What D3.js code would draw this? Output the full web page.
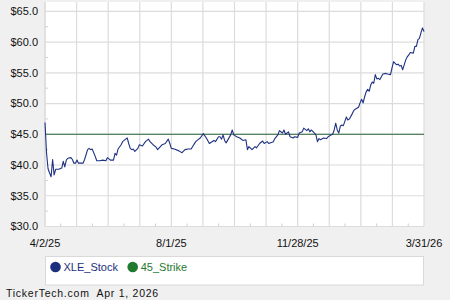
<!DOCTYPE html>
<html><head><meta charset="utf-8">
<script src="https://cdn.jsdelivr.net/npm/d3@7"></script>
<style>
html,body{margin:0;padding:0;background:#f0f0f0;}
svg{display:block;font-family:"Liberation Sans",Arial,sans-serif;}
</style></head>
<body>
<svg id="c" width="450" height="300"></svg>
<script>
// trading-session index (0 = 4/2/25, 249 = 3/31/26)
const sessionIdx = [0,1,2,3,4,5,6,7,9,11,12,13,14,15,17,18,19,20,21,22,25,26,28,29,30,31,33,34,36,38,40,41,43,45,46,47,48,50,51,53,54,55,56,57,58,59,61,62,64,66,68,69,71,73,74,77,79,81,82,83,85,88,90,92,94,96,97,99,101,102,104,106,108,111,112,114,115,116,117,118,119,122,123,124,126,128,130,132,133,134,136,138,139,141,143,144,146,147,150,151,153,154,156,157,158,160,161,163,164,166,167,169,170,172,173,174,175,177,178,179,180,181,183,185,186,188,189,190,191,192,193,194,195,196,197,198,199,200,202,203,204,206,207,208,209,210,211,212,213,214,215,216,217,218,219,220,222,224,225,227,228,229,231,232,233,234,235,237,238,239,240,242,243,244,245,246,247,248,249];
const xleStock = [46.9,42.0,39.4,38.7,38.1,40.9,38.4,39.3,39.3,39.5,40.6,39.7,40.8,41.1,41.2,40.9,40.3,40.3,40.8,40.3,40.3,40.9,42.5,42.7,42.5,42.6,41.4,40.7,40.7,40.8,40.7,41.2,40.8,40.8,41.9,41.6,42.6,43.3,43.8,44.2,44.4,43.5,42.7,42.5,42.6,42.2,42.7,43.3,43.1,43.8,44.2,43.8,43.3,42.9,42.5,43.3,43.5,44.2,43.5,42.7,42.6,42.3,42.0,42.5,42.6,42.6,43.0,43.8,44.2,44.4,45.1,44.4,43.5,44.0,43.8,44.6,44.6,44.2,44.9,44.0,43.6,44.9,45.7,44.9,44.6,44.4,44.0,44.1,42.5,43.0,42.5,43.0,42.8,43.5,43.9,43.5,43.8,43.5,43.8,44.3,44.9,45.6,45.2,45.7,45.0,45.4,44.6,44.4,44.6,44.5,45.2,45.4,46.0,45.6,45.9,45.4,45.7,45.2,44.9,43.8,44.3,44.1,44.4,44.3,44.6,44.9,45.0,45.7,46.8,45.7,45.2,46.3,46.5,46.4,47.1,47.8,47.3,47.5,48.4,48.9,49.1,49.4,50.1,50.7,50.1,51.1,51.9,52.3,52.0,53.0,53.5,53.3,54.7,54.0,54.1,53.9,54.8,54.9,54.8,54.7,55.8,56.8,56.3,56.4,56.1,56.2,55.5,57.1,57.6,57.9,58.3,58.2,59.3,59.3,60.4,60.6,61.5,62.3,61.7];
const strikeValue = 45;
const yTicks = [30,35,40,45,50,55,60,65];
const xLabels = ["4/2/25","8/1/25","11/28/25","3/31/26"];
const xLabelIdx = [0,83,166,249];
const seriesNames = ["XLE_Stock","45_Strike"];
const seriesColors = ["#1c2f7e","#1f7a30"];
const footerText = "TickerTech.com  Apr 1, 2026";

const svg = d3.select("#c");
const L = 45, R = 424, T = 2, B = 226.5;
const x = d3.scaleLinear().domain([0,249]).range([L,R]);
const y = d3.scaleLinear().domain([30,65]).range([B,11.3]);

svg.append("rect").attr("x",L).attr("y",T).attr("width",R-L).attr("height",B-T).attr("fill","#fff");

// vertical grid: 12 equal intervals
const vGrid = d3.range(0,13).map(i=>i*249/12);
svg.append("g").selectAll("line").data(vGrid).join("line")
  .attr("x1",d=>x(d)).attr("x2",d=>x(d)).attr("y1",T).attr("y2",B)
  .attr("stroke","#dcdcdc").attr("stroke-width",1.2);
svg.append("g").selectAll("line").data(yTicks).join("line")
  .attr("x1",L).attr("x2",R).attr("y1",d=>y(d)).attr("y2",d=>y(d))
  .attr("stroke","#dcdcdc").attr("stroke-width",1.2);
// minor ticks
const vMinor = d3.range(0,12).map(i=>(i+0.5)*249/12);
svg.append("g").selectAll("line").data(vMinor).join("line")
  .attr("x1",d=>x(d)).attr("x2",d=>x(d)).attr("y1",B-3).attr("y2",B)
  .attr("stroke","#cfcfcf");
const yMinor = d3.range(0,7).map(i=>32.5+5*i);
svg.append("g").selectAll("line").data(yMinor).join("line")
  .attr("x1",L).attr("x2",L+3).attr("y1",d=>y(d)).attr("y2",d=>y(d))
  .attr("stroke","#cfcfcf");
svg.append("line").attr("x1",L).attr("x2",L).attr("y1",T).attr("y2",B).attr("stroke","#dcdcdc").attr("stroke-width",1.2);

// y labels
svg.append("g").selectAll("text").data(yTicks).join("text")
  .attr("x",38).attr("y",d=>y(d)).attr("dy","0.35em").attr("text-anchor","end")
  .attr("font-size",11).attr("fill","#111").text(d=>"$"+d.toFixed(1));
// x labels
svg.append("g").selectAll("text").data(xLabels).join("text")
  .attr("x",(d,i)=>x(xLabelIdx[i])).attr("y",247).attr("text-anchor","middle")
  .attr("font-size",11).attr("fill","#111").text(d=>d);

// strike line
svg.append("line").attr("x1",L).attr("x2",R).attr("y1",y(strikeValue)).attr("y2",y(strikeValue))
  .attr("stroke","#2a6035").attr("stroke-width",1.2);
// stock line
const data = sessionIdx.map((d,i)=>({i:d,v:xleStock[i]}));
svg.append("path").datum(data)
  .attr("d",d3.line().x(d=>x(d.i)).y(d=>y(d.v)))
  .attr("fill","none").attr("stroke","#1e3182").attr("stroke-width",1.1).attr("stroke-linejoin","round");

// legend
svg.append("rect").attr("x",45.5).attr("y",256.5).attr("width",378).attr("height",28.5)
  .attr("fill","#fff").attr("stroke","#d9d9d9");
const legX = [55.5,132.7];
seriesNames.forEach((n,i)=>{
  svg.append("circle").attr("cx",legX[i]).attr("cy",267).attr("r",5.3).attr("fill",seriesColors[i]);
  svg.append("text").attr("x",legX[i]+8).attr("y",267).attr("dy","0.35em")
    .attr("font-size",11).attr("fill",seriesColors[i]).text(n);
});

svg.append("text").attr("x",6).attr("y",297).attr("font-size",10.5).attr("letter-spacing",0.75)
  .style("white-space","pre").attr("fill","#111").text(footerText);
</script>
</body></html>
